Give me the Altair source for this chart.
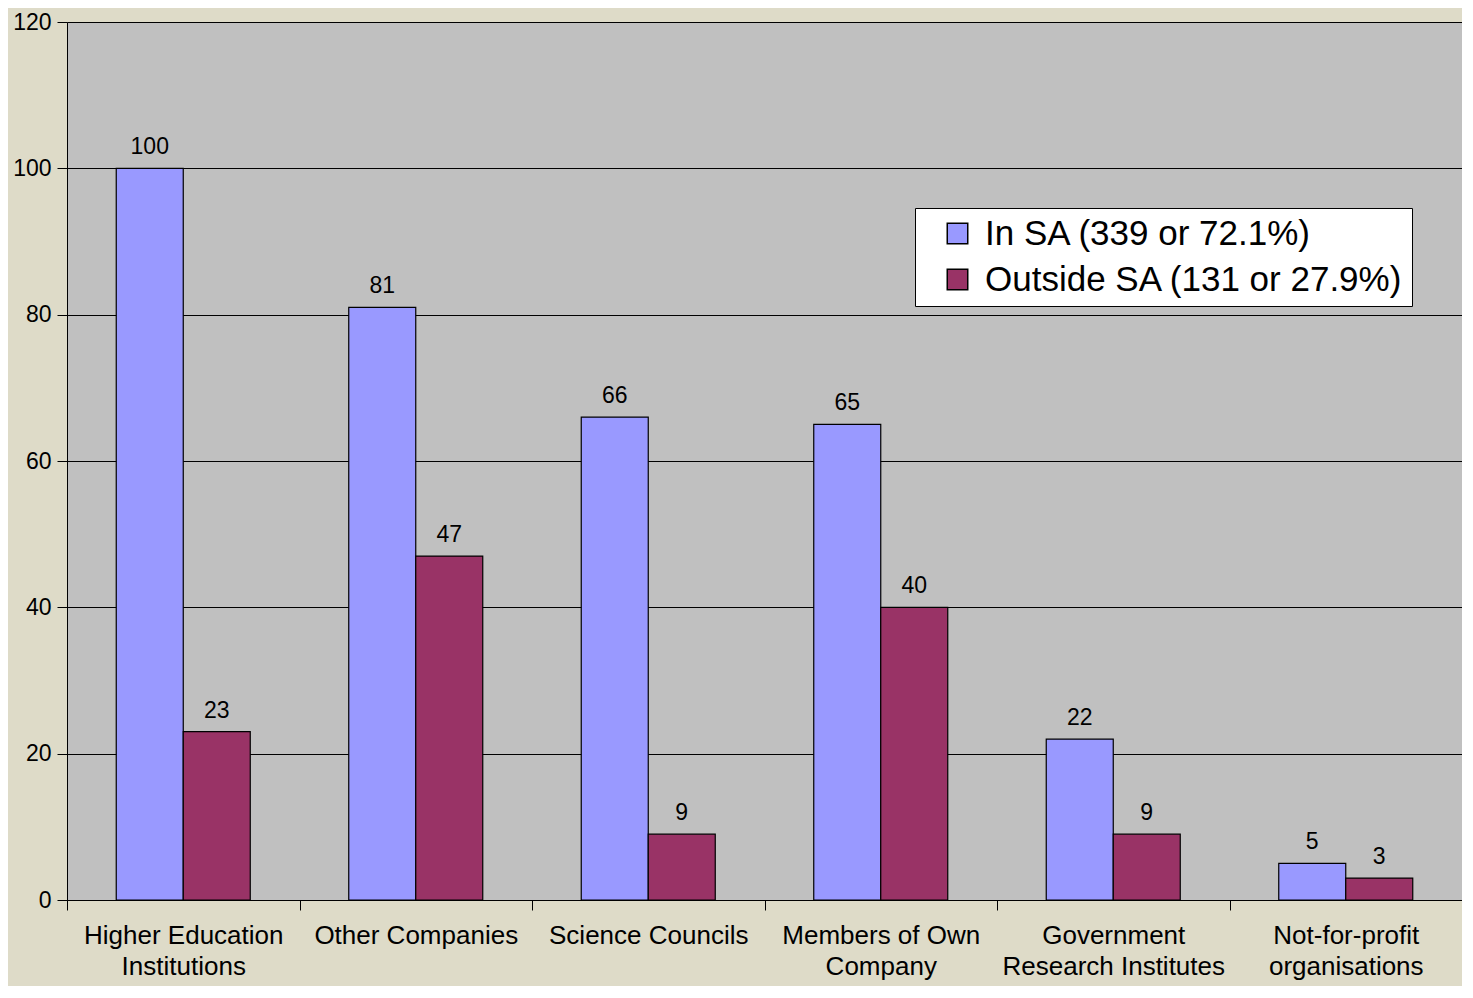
import altair as alt
import pandas as pd

categories = [
    "Higher Education\nInstitutions",
    "Other Companies",
    "Science Councils",
    "Members of Own\nCompany",
    "Government\nResearch Institutes",
    "Not-for-profit\norganisations",
]
series = ["In SA (339 or 72.1%)", "Outside SA (131 or 27.9%)"]
in_sa = [100, 81, 66, 65, 22, 5]
outside_sa = [23, 47, 9, 40, 9, 3]
y_ticks = [0, 20, 40, 60, 80, 100, 120]
colors = ["#9999FF", "#993366"]

rows = []
for i, c in enumerate(categories):
    rows.append({"cat": c, "series": series[0], "value": in_sa[i]})
    rows.append({"cat": c, "series": series[1], "value": outside_sa[i]})
df = pd.DataFrame(rows)

x_enc = alt.X(
    "cat:N",
    sort=categories,
    scale=alt.Scale(paddingInner=0, paddingOuter=0),
    axis=alt.Axis(
        title=None,
        labelAngle=0,
        labelExpr="split(datum.label, '\\n')",
        tickBand="extent",
        labelFontSize=26,
        labelLineHeight=31,
        labelPadding=12,
        labelBaseline="top",
        labelLimit=400,
        tickSize=10,
        tickColor="black",
        domainColor="black",
        labelColor="black",
        labelFont="Liberation Sans",
        grid=False,
    ),
)
xoff = alt.XOffset("series:N", sort=series, scale=alt.Scale(paddingOuter=0.735, paddingInner=0))
y_enc = alt.Y(
    "value:Q",
    scale=alt.Scale(domain=[0, 120], nice=False),
    axis=alt.Axis(
        title=None,
        values=y_ticks,
        labelFontSize=23,
        labelFont="Liberation Sans",
        labelColor="black",
        tickSize=10,
        tickColor="black",
        domainColor="black",
        gridColor="black",
        gridWidth=1,
        labelPadding=6,
    ),
)

bars = alt.Chart(df).mark_bar(stroke="black", strokeWidth=1.2).encode(
    x=x_enc,
    xOffset=xoff,
    y=y_enc,
    color=alt.Color(
        "series:N",
        sort=series,
        scale=alt.Scale(domain=series, range=colors),
        legend=alt.Legend(
            title=None,
            orient="none",
            legendX=848,
            legendY=186,
            fillColor="white",
            strokeColor="black",
            padding=8,
            labelFontSize=35,
            labelFont="Liberation Sans",
            labelColor="black",
            symbolType="square",
            symbolSize=420,
            symbolStrokeColor="black",
            symbolStrokeWidth=1.5,
            symbolOffset=17,
            rowPadding=10,
            labelOffset=10,
            labelLimit=600,
        ),
    ),
)

labels = alt.Chart(df).mark_text(
    dy=-14, baseline="alphabetic", fontSize=23, font="Liberation Sans", color="black"
).encode(
    x=alt.X("cat:N", sort=categories),
    xOffset=alt.XOffset("series:N", sort=series),
    y=alt.Y("value:Q"),
    text=alt.Text("value:Q"),
)

chart = (
    alt.layer(bars, labels)
    .properties(
        width=1395,
        height=878,
        autosize=alt.AutoSizeParams(type="none"),
        padding={"left": 59, "top": 14, "right": 0, "bottom": 86},
        background="#DEDBC8",
    )
    .configure_view(fill="#C0C0C0", stroke=None)
)

chart.save("out.html", embed_options={"renderer": "svg", "actions": False})
